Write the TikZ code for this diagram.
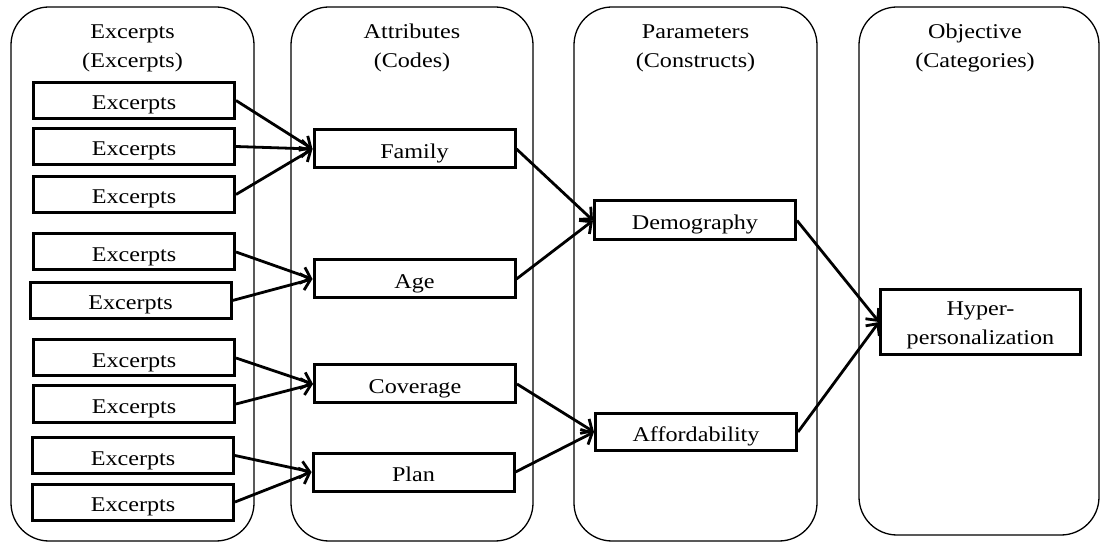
\documentclass[tikz,border=0pt]{standalone}
\usepackage{fontspec}
\setmainfont{Liberation Serif}[FakeStretch=1.15]
\usepackage{tikz}
\usetikzlibrary{arrows.meta}
\tikzset{
  lane/.style={draw=black,line width=1.3pt,rounded corners=38pt,inner sep=0pt},
  lanehead/.style={align=center,inner sep=0pt},
  cbox/.style={draw=black,line width=3pt,minimum width=201pt,minimum height=36pt,inner sep=0pt,
    align=center,text height=19pt,text depth=0pt},
  carr/.style={-{Straight Barb[length=9pt,width=17pt]},line width=2.8pt,draw=black}
}
\begin{document}
\begin{tikzpicture}[x=1pt,y=-1pt,font=\fontsize{21}{29}\selectfont]
  \useasboundingbox (0,0) rectangle (1101,545);
  % columns
  \node[lane,minimum width=243pt,minimum height=534pt] (lexc) at (132.5,274) {};
  \node[lane,minimum width=242pt,minimum height=534pt] (lcod) at (412,274) {};
  \node[lane,minimum width=243pt,minimum height=534pt] (lcon) at (695.5,274) {};
  \node[lane,minimum width=240pt,minimum height=528pt] (lcat) at (979,271) {};
  \node[lanehead] (hexc) at (132.5,48) {Excerpts\\(Excerpts)};
  \node[lanehead] (hcod) at (412,48) {Attributes\\(Codes)};
  \node[lanehead] (hcon) at (695.5,48) {Parameters\\(Constructs)};
  \node[lanehead] (hcat) at (975,48) {Objective\\(Categories)};
  % excerpts
  \node[cbox] (e1) at (134,100.5) {Excerpts};
  \node[cbox] (e2) at (134,146.5) {Excerpts};
  \node[cbox] (e3) at (134,194.5) {Excerpts};
  \node[cbox] (e4) at (134,252) {Excerpts};
  \node[cbox] (e5) at (130.5,300.5) {Excerpts};
  \node[cbox] (e6) at (134,358) {Excerpts};
  \node[cbox] (e7) at (134,404) {Excerpts};
  \node[cbox] (e8) at (133,455.5) {Excerpts};
  \node[cbox] (e9) at (133,502) {Excerpts};
  % codes
  \node[cbox,minimum height=38pt] (fam) at (414.5,149) {Family};
  \node[cbox,minimum height=38pt] (age) at (414.5,279) {Age};
  \node[cbox,minimum height=38pt] (cov) at (415,384) {Coverage};
  \node[cbox,minimum height=38pt] (pln) at (413.5,472) {Plan};
  % constructs
  \node[cbox,minimum height=39pt] (dem) at (695,220.5) {Demography};
  \node[cbox,minimum height=37pt] (aff) at (696,432) {Affordability};
  % category
  \node[cbox,minimum width=200pt,minimum height=65pt,text height=46pt] (hyp) at (980.5,322)
    {Hyper-\\personalization};
  % arrows
  \draw[carr] (e1.east) -- (fam.west);
  \draw[carr] (e2.east) -- (fam.west);
  \draw[carr] (e3.east) -- (fam.west);
  \draw[carr] (e4.east) -- (age.west);
  \draw[carr] (e5.east) -- (age.west);
  \draw[carr] (e6.east) -- (cov.west);
  \draw[carr] (e7.east) -- (cov.west);
  \draw[carr] (e8.east) -- (pln.west);
  \draw[carr] (e9.east) -- (pln.west);
  \draw[carr] (fam.east) -- (dem.west);
  \draw[carr] (age.east) -- (dem.west);
  \draw[carr] (cov.east) -- (aff.west);
  \draw[carr] (pln.east) -- (aff.west);
  \draw[carr] (dem.east) -- (hyp.west);
  \draw[carr] (aff.east) -- (hyp.west);
\end{tikzpicture}
\end{document}
